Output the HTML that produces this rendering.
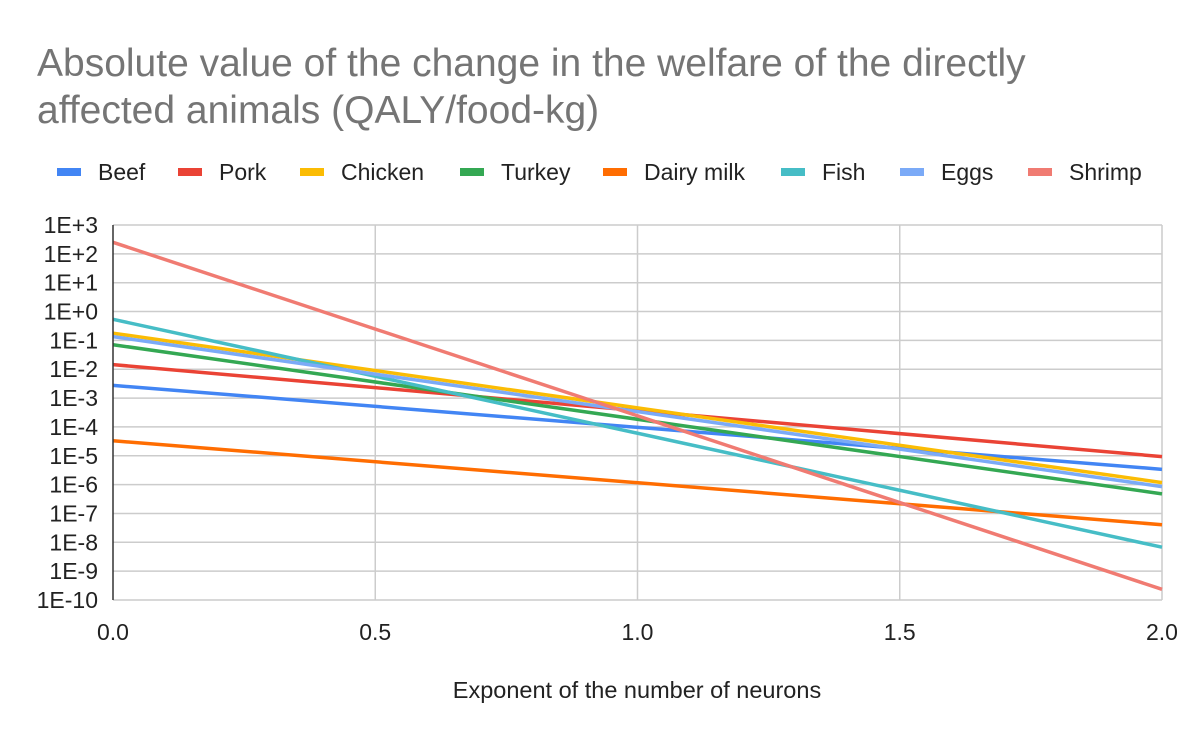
<!DOCTYPE html>
<html><head><meta charset="utf-8"><style>
body{margin:0;background:#fff;width:1200px;height:742px;overflow:hidden;font-family:"Liberation Sans",Arial,sans-serif}
</style></head><body>
<svg width="1200" height="742" xmlns="http://www.w3.org/2000/svg">
<rect width="1200" height="742" fill="#fff"/>
<text x="37" y="76" font-size="39" fill="#757575">Absolute value of the change in the welfare of the directly</text>
<text x="37" y="123" font-size="39" fill="#757575">affected animals (QALY/food-kg)</text>
<g id="legend"></g>
<g id="grid"></g>
<g id="yticks"></g>
<g id="xticks"></g>
<g id="series"></g>
<line x1="113" y1="225" x2="113" y2="600" stroke="#333" stroke-width="1.5"/>
<text x="637" y="698" font-size="23.5" fill="#222" text-anchor="middle">Exponent of the number of neurons</text>
</svg>
<script>
const names = ["Beef","Pork","Chicken","Turkey","Dairy milk","Fish","Eggs","Shrimp"];
const colors = ["#4285f4","#ea4335","#fbbc04","#34a853","#ff6d01","#46bdc6","#7baaf7","#f07b72"];
const xValues = [0, 2];
const logStart = [-2.56,-1.84,-0.75,-1.15,-4.48,-0.27,-0.87,2.4];
const logEnd = [-5.47,-5.03,-5.93,-6.32,-7.39,-8.17,-6.07,-9.63];
const yTickExp = [3,2,1,0,-1,-2,-3,-4,-5,-6,-7,-8,-9,-10];
const xTicks = [0,0.5,1,1.5,2];
const xTickLabels = ["0.0","0.5","1.0","1.5","2.0"];
const legendX = [57,178,300,460,603,781,900,1028];

const NS="http://www.w3.org/2000/svg";
const X0=113,X1=1162,Y0=225,Y1=600;
const xs=v=>X0+(v-0)/(2-0)*(X1-X0);
const ys=e=>Y0+(3-e)/13*(Y1-Y0);
function mk(tag,attrs,parent){const el=document.createElementNS(NS,tag);for(const k in attrs)el.setAttribute(k,attrs[k]);parent.appendChild(el);return el;}
const grid=document.getElementById('grid'),yt=document.getElementById('yticks'),xt=document.getElementById('xticks'),ser=document.getElementById('series'),lg=document.getElementById('legend');
yTickExp.forEach(e=>{
  const l=mk('line',{x1:X0,x2:X1,y1:ys(e),y2:ys(e),stroke:'#ccc','stroke-width':1.5},grid);
  
  
  const t=mk('text',{x:98,y:ys(e)+8,'font-size':23,fill:'#222','text-anchor':'end'},yt);
  t.textContent='1E'+(e>=0?'+':'')+e;
  
  
});
xTicks.forEach((v,i)=>{
  if(i>0){const l=mk('line',{x1:xs(v),x2:xs(v),y1:Y0,y2:Y1,stroke:'#ccc','stroke-width':1.5},grid);
  
  }
  const t=mk('text',{x:xs(v),y:640,'font-size':23,fill:'#222','text-anchor':'middle'},xt);
  t.textContent=xTickLabels[i];
  
  
});
names.forEach((n,i)=>{
  const l=mk('line',{x1:xs(xValues[0]),y1:ys(logStart[i]),x2:xs(xValues[1]),y2:ys(logEnd[i]),stroke:colors[i],'stroke-width':3.5},ser);
  
  
  const r=mk('rect',{x:legendX[i],y:168,width:24,height:8,fill:colors[i]},lg);
  
  
  const t=mk('text',{x:legendX[i]+41,y:180,'font-size':23,fill:'#222'},lg);
  t.textContent=n;
  
  
});
</script>
</body></html>
